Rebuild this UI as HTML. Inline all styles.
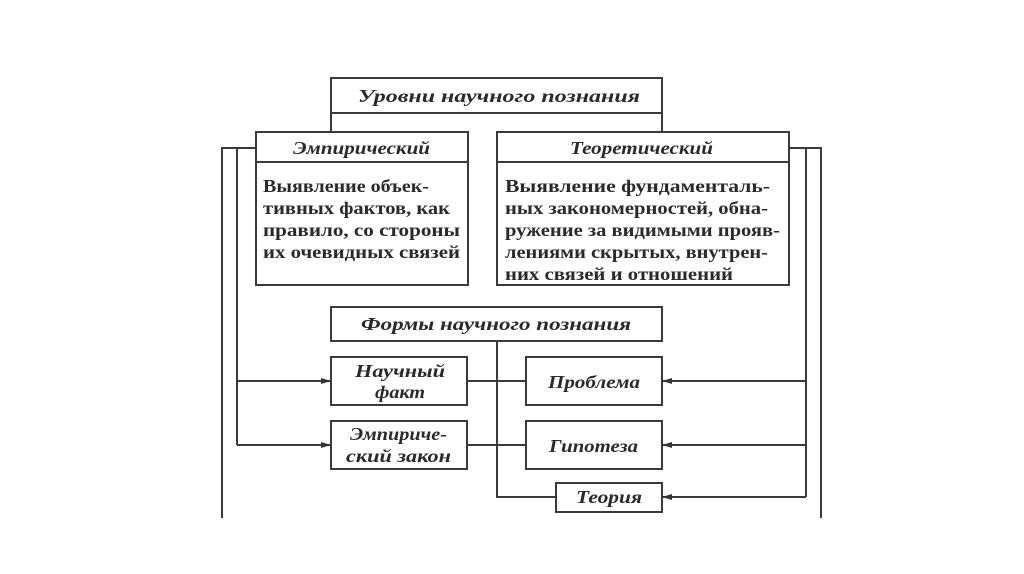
<!DOCTYPE html>
<html><head><meta charset="utf-8"><style>
html,body{margin:0;padding:0;background:#fff;}
svg{display:block;}
text{font-family:"Liberation Serif","DejaVu Serif",serif;fill:#2a2a2a;}
.h{font-style:italic;font-weight:bold;font-size:18px;}
.b{font-weight:bold;font-size:18px;}
</style></head><body>
<svg width="1024" height="574" viewBox="0 0 1024 574" xmlns="http://www.w3.org/2000/svg">
<defs><marker id="a" markerWidth="10" markerHeight="8" refX="9" refY="4" orient="auto" markerUnits="userSpaceOnUse"><path d="M0,1 L10,4 L0,7 Z" fill="#333"/></marker></defs>
<g stroke="#3a3a3a" stroke-width="2" fill="none">
<rect x="331" y="78" width="331" height="35" fill="#fff"/>
<line x1="331" y1="113" x2="331" y2="132"/>
<line x1="662" y1="113" x2="662" y2="132"/>
<rect x="256" y="132" width="212" height="153"/>
<line x1="256" y1="162" x2="468" y2="162"/>
<rect x="497" y="132" width="292" height="153"/>
<line x1="497" y1="162" x2="789" y2="162"/>
<polyline points="256,148 222,148 222,518"/>
<polyline points="237,148 237,445"/>
<polyline points="789,148 821,148 821,518"/>
<polyline points="806,148 806,497"/>
<rect x="331" y="307" width="331" height="34"/>
<polyline points="497,341 497,497 556,497"/>
<rect x="331" y="357" width="136" height="48"/>
<rect x="526" y="357" width="136" height="48"/>
<rect x="331" y="421" width="136" height="48"/>
<rect x="526" y="421" width="136" height="48"/>
<rect x="556" y="483" width="106" height="29"/>
<line x1="467" y1="381" x2="526" y2="381"/>
<line x1="467" y1="445" x2="526" y2="445"/>
<line x1="237" y1="381" x2="330" y2="381" marker-end="url(#a)"/>
<line x1="237" y1="445" x2="330" y2="445" marker-end="url(#a)"/>
<line x1="806" y1="381" x2="663" y2="381" marker-end="url(#a)"/>
<line x1="806" y1="445" x2="663" y2="445" marker-end="url(#a)"/>
<line x1="806" y1="497" x2="663" y2="497" marker-end="url(#a)"/>
</g>
<g>
<text class="h" x="358" y="102" textLength="282" lengthAdjust="spacingAndGlyphs">Уровни научного познания</text>
<text class="h" x="293" y="154" textLength="137" lengthAdjust="spacingAndGlyphs">Эмпирический</text>
<text class="h" x="570" y="154" textLength="143" lengthAdjust="spacingAndGlyphs">Теоретический</text>
<text class="b" x="263" y="192" textLength="166" lengthAdjust="spacingAndGlyphs">Выявление объек-</text>
<text class="b" x="263" y="214" textLength="187" lengthAdjust="spacingAndGlyphs">тивных фактов, как</text>
<text class="b" x="263" y="236" textLength="197" lengthAdjust="spacingAndGlyphs">правило, со стороны</text>
<text class="b" x="263" y="258" textLength="197" lengthAdjust="spacingAndGlyphs">их очевидных связей</text>
<text class="b" x="505" y="192" textLength="265" lengthAdjust="spacingAndGlyphs">Выявление фундаменталь-</text>
<text class="b" x="505" y="214" textLength="263" lengthAdjust="spacingAndGlyphs">ных закономерностей, обна-</text>
<text class="b" x="505" y="236" textLength="275" lengthAdjust="spacingAndGlyphs">ружение за видимыми прояв-</text>
<text class="b" x="505" y="258" textLength="263" lengthAdjust="spacingAndGlyphs">лениями скрытых, внутрен-</text>
<text class="b" x="505" y="280" textLength="228" lengthAdjust="spacingAndGlyphs">них связей и отношений</text>
<text class="h" x="361" y="330" textLength="270" lengthAdjust="spacingAndGlyphs">Формы научного познания</text>
<text class="h" x="355" y="377" textLength="90" lengthAdjust="spacingAndGlyphs">Научный</text>
<text class="h" x="375" y="398" textLength="50" lengthAdjust="spacingAndGlyphs">факт</text>
<text class="h" x="548" y="388" textLength="92" lengthAdjust="spacingAndGlyphs">Проблема</text>
<text class="h" x="350" y="440" textLength="97" lengthAdjust="spacingAndGlyphs">Эмпириче-</text>
<text class="h" x="346" y="462" textLength="105" lengthAdjust="spacingAndGlyphs">ский закон</text>
<text class="h" x="549" y="452" textLength="89" lengthAdjust="spacingAndGlyphs">Гипотеза</text>
<text class="h" x="576" y="503" textLength="66" lengthAdjust="spacingAndGlyphs">Теория</text>
</g>
</svg>
</body></html>
